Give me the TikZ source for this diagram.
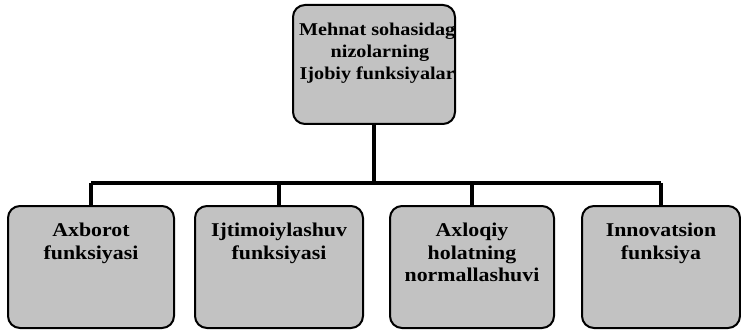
\documentclass[tikz,border=0pt]{standalone}
\usepackage{fontspec}
\setmainfont{Liberation Serif}
\newfontfamily\boxfont[FakeStretch=1.12]{Liberation Serif}
\usetikzlibrary{positioning}

\begin{document}
\begin{tikzpicture}[x=1pt, y=-1pt,
  fbox/.style={draw, line width=2pt, rounded corners=12pt, fill=black!24,
    minimum width=164pt, minimum height=122pt, inner sep=0pt},
  ftext/.style={font=\boxfont\bfseries\fontsize{19.5}{22.5}\selectfont,
    align=center, inner sep=0pt},
  ttext/.style={font=\boxfont\bfseries\fontsize{18}{22}\selectfont,
    align=center, inner sep=0pt},
  link/.style={line width=3.2pt}]
  \useasboundingbox (0,0) rectangle (741,331);
  % top box, its text is cut off at the frame
  \node[fbox, minimum width=162pt, minimum height=119pt] (top) at (374,64.5) {};
  \begin{scope}
    \clip[rounded corners=11pt] ([xshift=1pt,yshift=-1pt]top.north west)
      rectangle ([xshift=-1pt,yshift=1pt]top.south east);
    \node[ttext, below=19pt of top.north, xshift=6pt] (ttop)
      {Mehnat sohasidagi\\nizolarning\\Ijobiy funksiyalari};
  \end{scope}
  % bottom row
  \node[fbox, minimum width=166pt] (info) at (91,267) {};
  \node[fbox, minimum width=168pt] (social) at (279,267) {};
  \node[fbox] (moral) at (472,267) {};
  \node[fbox, minimum width=158pt] (innov) at (661,267) {};
  \node[ftext, below=18pt of info.north] (tinfo) {Axborot\\funksiyasi};
  \node[ftext, below=18pt of social.north] (tsocial) {Ijtimoiylashuv\\funksiyasi};
  \node[ftext, below=18pt of moral.north] (tmoral) {Axloqiy\\holatning\\normallashuvi};
  \node[ftext, below=18pt of innov.north] (tinnov) {Innovatsion\\funksiya};
  % connectors
  \coordinate (bus) at (374,183);
  \draw[link] (top.south) -- (top.south |- bus);
  \draw[link] (info.north |- bus) -- (innov.north |- bus);
  \foreach \b in {info,social,moral,innov}
    \draw[link] (\b.north) -- (\b.north |- bus);
\end{tikzpicture}
\end{document}
